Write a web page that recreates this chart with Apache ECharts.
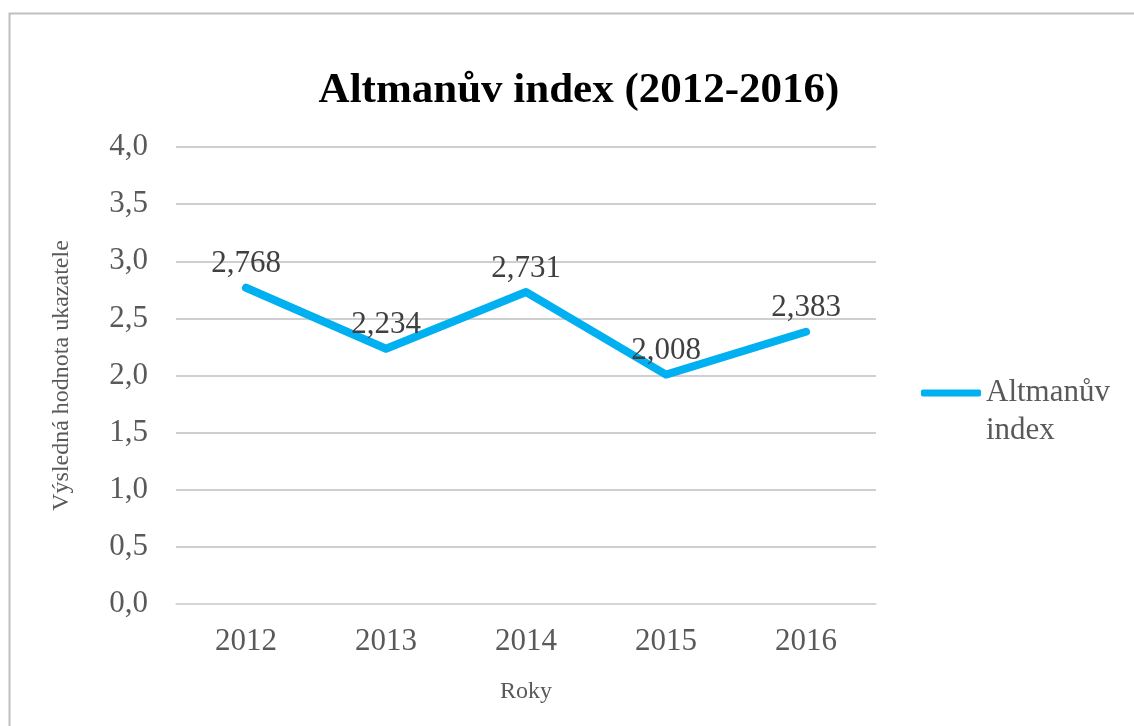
<!DOCTYPE html>
<html>
<head>
<meta charset="utf-8">
<script src="https://cdn.jsdelivr.net/npm/echarts@6/dist/echarts.min.js"></script>
<style>
  html, body { margin: 0; padding: 0; background: #fff; }
  #chart { width: 1134px; height: 726px; }
</style>
</head>
<body>
<div id="chart"></div>
<script>
  var years = ['2012', '2013', '2014', '2015', '2016'];
  var altmanValues = [2.768, 2.234, 2.731, 2.008, 2.383];
  var seriesName = 'Altmanův index';

  var serif = '"Liberation Serif", "Times New Roman", serif';
  var fmtComma = function (v, digits) {
    return Number(v).toFixed(digits).replace('.', ',');
  };

  var myChart = echarts.init(document.getElementById('chart'));
  myChart.setOption({
    animation: false,
    backgroundColor: '#fff',
    title: {
      text: 'Altmanův index (2012-2016)',
      left: 574,
      top: 64,
      textAlign: 'center',
      textStyle: {
        fontFamily: serif,
        fontSize: 43,
        fontWeight: 'bold',
        color: '#000'
      }
    },
    graphic: [{
      type: 'rect',
      shape: { x: 9.5, y: 13.5, width: 1140, height: 730 },
      style: { fill: 'none', stroke: '#bfbfbf', lineWidth: 2 },
      silent: true
    }],
    legend: {
      data: [{ name: seriesName, icon: 'roundRect' }],
      orient: 'vertical',
      left: 921,
      top: 336,
      padding: 0,
      itemWidth: 60,
      itemHeight: 7,
      itemGap: 0,
      itemStyle: { color: '#00b0f0' },
      // empty first line keeps "Altmanův" level with the legend line
      formatter: function () { return ' \nAltmanův\nindex'; },
      textStyle: {
        fontFamily: serif,
        fontSize: 31,
        lineHeight: 38,
        color: '#595959'
      }
    },
    grid: {
      left: 176,
      right: 258,
      top: 147,
      bottom: 122
    },
    xAxis: {
      type: 'category',
      data: years,
      boundaryGap: true,
      name: 'Roky',
      nameLocation: 'middle',
      nameGap: 76,
      nameTextStyle: {
        fontFamily: serif,
        fontSize: 24,
        color: '#595959'
      },
      axisLine: { lineStyle: { color: '#d9d9d9', width: 1.5 } },
      axisTick: { show: false },
      axisLabel: {
        margin: 22,
        fontFamily: serif,
        fontSize: 31,
        color: '#595959'
      }
    },
    yAxis: {
      type: 'value',
      min: 0,
      max: 4,
      interval: 0.5,
      name: 'Výsledná hodnota ukazatele',
      nameLocation: 'middle',
      nameGap: 102,
      nameTextStyle: {
        fontFamily: serif,
        fontSize: 24,
        color: '#595959'
      },
      axisLine: { show: false },
      axisTick: { show: false },
      splitLine: { lineStyle: { color: '#bfbfbf', width: 1.5 } },
      axisLabel: {
        margin: 28,
        fontFamily: serif,
        fontSize: 31,
        color: '#595959',
        formatter: function (v) { return fmtComma(v, 1); }
      }
    },
    series: [{
      name: seriesName,
      type: 'line',
      data: altmanValues,
      showSymbol: true,
      symbol: 'circle',
      symbolSize: 0.1,
      lineStyle: { color: '#00b0f0', width: 8, cap: 'round', join: 'round' },
      itemStyle: { color: '#00b0f0' },
      label: {
        show: true,
        position: 'top',
        distance: 8,
        fontFamily: serif,
        fontSize: 31,
        color: '#404040',
        formatter: function (p) { return fmtComma(p.value, 3); }
      }
    }]
  });
</script>
</body>
</html>
